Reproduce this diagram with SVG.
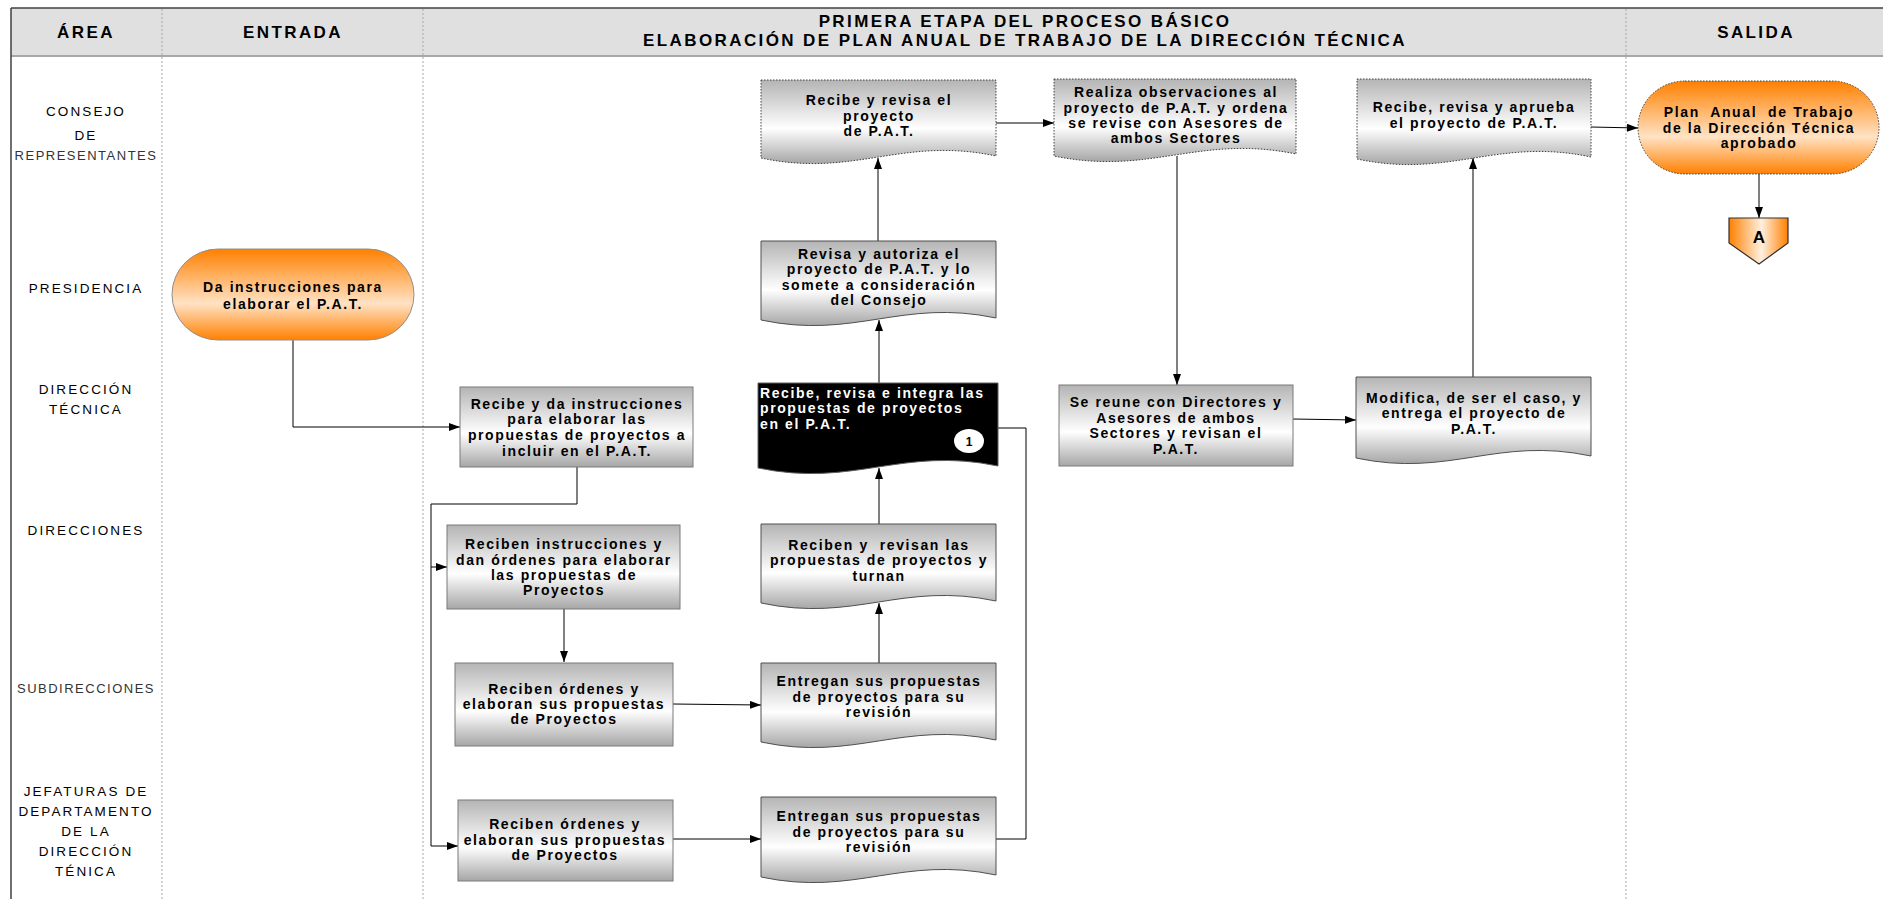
<svg xmlns="http://www.w3.org/2000/svg" width="1883" height="899" viewBox="0 0 1883 899">
<style>
.hd{font-family:"Liberation Sans",Arial,sans-serif;font-weight:bold;font-size:17px;letter-spacing:2.4px;text-anchor:middle;fill:#000}
.lab{font-family:"Liberation Sans",Arial,sans-serif;font-size:13.5px;letter-spacing:2.1px;text-anchor:middle;fill:#000}
.lab2{font-family:"Liberation Sans",Arial,sans-serif;font-size:13px;letter-spacing:1.5px;text-anchor:middle;fill:#333}
.t{font-family:"Liberation Sans",Arial,sans-serif;font-weight:bold;font-size:14px;letter-spacing:1.6px;text-anchor:middle;fill:#000}
.tw{font-family:"Liberation Sans",Arial,sans-serif;font-weight:bold;font-size:14px;letter-spacing:1.6px;fill:#fff}
.box{fill:url(#gGrey);stroke:#7a7a7a;stroke-width:1}
.doc{fill:url(#gGrey);stroke:#505050;stroke-width:1}
.docd{fill:url(#gGrey);stroke:#404040;stroke-width:1;stroke-dasharray:1.5 1.5}
.ln{fill:none;stroke:#000;stroke-width:1}
.arr{fill:none;stroke:#000;stroke-width:1;marker-end:url(#ah)}
.div{stroke:#a8a8a8;stroke-width:1;stroke-dasharray:2 2}
</style>
<defs>
<linearGradient id="gGrey" x1="0" y1="0" x2="0" y2="1">
<stop offset="0" stop-color="#b4b4b4"/>
<stop offset="0.58" stop-color="#ffffff"/>
<stop offset="1" stop-color="#a6a6a6"/>
</linearGradient>
<linearGradient id="gOr" x1="0" y1="0" x2="0" y2="1">
<stop offset="0" stop-color="#ff8000"/>
<stop offset="0.6" stop-color="#ffe2c4"/>
<stop offset="1" stop-color="#ff8000"/>
</linearGradient>
<linearGradient id="gOrH" x1="0" y1="0" x2="1" y2="0">
<stop offset="0" stop-color="#ff8000"/>
<stop offset="0.55" stop-color="#fff0e0"/>
<stop offset="1" stop-color="#ff8000"/>
</linearGradient>
<marker id="ah" viewBox="0 0 11 8" refX="11" refY="4" markerWidth="11" markerHeight="8" markerUnits="userSpaceOnUse" orient="auto">
<path d="M0,0 L11,4 L0,8 z" fill="#000"/>
</marker>
</defs>
<rect x="0" y="0" width="1883" height="899" fill="#fff"/>
<g id="frame">
<rect x="11" y="8" width="1872" height="48" fill="#e0e0e0"/>
<line x1="11" y1="56" x2="1883" y2="56" stroke="#a8a8a8" stroke-width="2"/>
<line x1="11" y1="8" x2="1883" y2="8" stroke="#404040" stroke-width="1.5"/>
<line x1="11" y1="8" x2="11" y2="899" stroke="#404040" stroke-width="1.5"/>
<line class="div" x1="162" y1="9" x2="162" y2="899"/>
<line class="div" x1="423" y1="9" x2="423" y2="899"/>
<line class="div" x1="1626" y1="9" x2="1626" y2="899"/>
<text class="hd" x="86" y="38">ÁREA</text>
<text class="hd" x="293" y="38">ENTRADA</text>
<text class="hd" x="1025" y="27">PRIMERA ETAPA DEL PROCESO BÁSICO</text>
<text class="hd" x="1025" y="46">ELABORACIÓN DE PLAN ANUAL DE TRABAJO DE LA DIRECCIÓN TÉCNICA</text>
<text class="hd" x="1756" y="38">SALIDA</text>
</g>
<g id="lanes">
<text class="lab" x="86" y="116">CONSEJO</text>
<text class="lab" x="86" y="140">DE</text>
<text class="lab2" x="86" y="160">REPRESENTANTES</text>
<text class="lab" x="86" y="293">PRESIDENCIA</text>
<text class="lab" x="86" y="394">DIRECCIÓN</text>
<text class="lab" x="86" y="414">TÉCNICA</text>
<text class="lab" x="86" y="535">DIRECCIONES</text>
<text class="lab2" x="86" y="693">SUBDIRECCIONES</text>
<text class="lab" x="86" y="796">JEFATURAS DE</text>
<text class="lab" x="86" y="816">DEPARTAMENTO</text>
<text class="lab" x="86" y="836">DE LA</text>
<text class="lab" x="86" y="856">DIRECCIÓN</text>
<text class="lab" x="86" y="876">TÉNICA</text>
</g>
<g id="connectors">
<polyline class="arr" points="293,340 293,427 460,427"/>
<polyline class="arr" points="577,467 577,504 431,504 431,846 458,846"/>
<polyline class="arr" points="431,567 447,567"/>
<polyline class="arr" points="564,609 564,662"/>
<polyline class="arr" points="673,704 761,705"/>
<polyline class="arr" points="879,663 879,603"/>
<polyline class="arr" points="879,524 879,468"/>
<polyline class="arr" points="879,383 879,320"/>
<polyline class="arr" points="878,241 878,158"/>
<polyline class="arr" points="996,123 1054,123"/>
<polyline class="arr" points="1177,156 1177,385"/>
<polyline class="arr" points="1293,419 1356,420"/>
<polyline class="arr" points="1473,377 1473,158"/>
<polyline class="arr" points="1591,127 1638,128"/>
<polyline class="arr" points="1759,174 1759,218"/>
<polyline class="arr" points="673,839 761,839"/>
<polyline class="ln" points="998,428 1026,428 1026,839 996,839"/>
</g>
<g id="n1">
<rect x="172" y="249" width="242" height="91" rx="46" ry="45.5" fill="url(#gOr)" stroke="#909090"/>
<text class="t" x="293" y="292">Da instrucciones para</text>
<text class="t" x="293" y="309">elaborar el P.A.T.</text>
</g>
<g id="n2">
<rect class="box" x="460" y="387" width="233" height="80"/>
<text class="t" x="577" y="409">Recibe y da instrucciones</text>
<text class="t" x="577" y="424">para elaborar las</text>
<text class="t" x="577" y="440">propuestas de proyectos a</text>
<text class="t" x="577" y="456">incluir en el P.A.T.</text>
</g>
<g id="n3">
<rect class="box" x="447" y="525" width="233" height="84"/>
<text class="t" x="564" y="549">Reciben instrucciones y</text>
<text class="t" x="564" y="565">dan órdenes para elaborar</text>
<text class="t" x="564" y="580">las propuestas de</text>
<text class="t" x="564" y="595">Proyectos</text>
</g>
<g id="n4">
<rect class="box" x="455" y="663" width="218" height="83"/>
<text class="t" x="564" y="694">Reciben órdenes y</text>
<text class="t" x="564" y="709">elaboran sus propuestas</text>
<text class="t" x="564" y="724">de Proyectos</text>
</g>
<g id="n5">
<path class="doc" d="M761,663 H996 V740 C902,720 855,762 761,742 Z"/>
<text class="t" x="879" y="686">Entregan sus propuestas</text>
<text class="t" x="879" y="702">de proyectos para su</text>
<text class="t" x="879" y="717">revisión</text>
</g>
<g id="n6">
<path class="doc" d="M761,524 H996 V601 C902,581 855,623 761,603 Z"/>
<text class="t" x="879" y="550" xml:space="preserve">Reciben y  revisan las</text>
<text class="t" x="879" y="565">propuestas de proyectos y</text>
<text class="t" x="879" y="581">turnan</text>
</g>
<g id="n7">
<path d="M758,383 H998 V466 C902,446 854,488 758,468 Z" fill="#000" stroke="#606060"/>
<text class="tw" x="760" y="398">Recibe, revisa e integra las</text>
<text class="tw" x="760" y="413">propuestas de proyectos</text>
<text class="tw" x="760" y="429">en el P.A.T.</text>
<ellipse cx="969" cy="441" rx="15" ry="12" fill="#fff"/>
<text x="969" y="445.5" text-anchor="middle" font-family="Liberation Sans, Arial, sans-serif" font-weight="bold" font-size="12" fill="#000">1</text>
</g>
<g id="n8">
<rect class="box" x="458" y="800" width="215" height="81"/>
<text class="t" x="565" y="829">Reciben órdenes y</text>
<text class="t" x="565" y="845">elaboran sus propuestas</text>
<text class="t" x="565" y="860">de Proyectos</text>
</g>
<g id="n9">
<path class="doc" d="M761,797 H996 V875 C902,855 855,897 761,877 Z"/>
<text class="t" x="879" y="821">Entregan sus propuestas</text>
<text class="t" x="879" y="837">de proyectos para su</text>
<text class="t" x="879" y="852">revisión</text>
</g>
<g id="n10">
<path class="doc" d="M761,241 H996 V318 C902,298 855,340 761,320 Z"/>
<text class="t" x="879" y="259">Revisa y autoriza el</text>
<text class="t" x="879" y="274">proyecto de P.A.T. y lo</text>
<text class="t" x="879" y="290">somete a consideración</text>
<text class="t" x="879" y="305">del Consejo</text>
</g>
<g id="n11">
<path class="docd" d="M761,80 H996 V156 C902,136 855,178 761,158 Z"/>
<text class="t" x="879" y="105">Recibe y revisa el</text>
<text class="t" x="879" y="121">proyecto</text>
<text class="t" x="879" y="136">de P.A.T.</text>
</g>
<g id="n12">
<path class="docd" d="M1054,79 H1296 V154 C1199,134 1151,176 1054,156 Z"/>
<text class="t" x="1176" y="97">Realiza observaciones al</text>
<text class="t" x="1176" y="113">proyecto de P.A.T. y ordena</text>
<text class="t" x="1176" y="128">se revise con Asesores de</text>
<text class="t" x="1176" y="143">ambos Sectores</text>
</g>
<g id="n13">
<rect class="box" x="1059" y="385" width="234" height="81"/>
<text class="t" x="1176" y="407">Se reune con Directores y</text>
<text class="t" x="1176" y="423">Asesores de ambos</text>
<text class="t" x="1176" y="438">Sectores y revisan el</text>
<text class="t" x="1176" y="454">P.A.T.</text>
</g>
<g id="n14">
<path class="doc" d="M1356,377 H1591 V456 C1497,436 1450,478 1356,458 Z"/>
<text class="t" x="1474" y="403">Modifica, de ser el caso, y</text>
<text class="t" x="1474" y="418">entrega el proyecto de</text>
<text class="t" x="1474" y="434">P.A.T.</text>
</g>
<g id="n15">
<path class="docd" d="M1357,79 H1591 V157 C1497,137 1451,179 1357,159 Z"/>
<text class="t" x="1474" y="112">Recibe, revisa y aprueba</text>
<text class="t" x="1474" y="128">el proyecto de P.A.T.</text>
</g>
<g id="n16">
<rect x="1638" y="81" width="241" height="93" rx="47" ry="46.5" fill="url(#gOr)" stroke="#404040" stroke-dasharray="1.5 1.5"/>
<text class="t" x="1759" y="117" xml:space="preserve">Plan  Anual  de Trabajo</text>
<text class="t" x="1759" y="133">de la Dirección Técnica</text>
<text class="t" x="1759" y="148">aprobado</text>
</g>
<g id="n17">
<polygon points="1729,218 1788,218 1788,243 1759,264 1729,243" fill="url(#gOrH)" stroke="#303030" stroke-width="1.2"/>
<text x="1759" y="243" text-anchor="middle" font-family="Liberation Sans, Arial, sans-serif" font-weight="bold" font-size="17" fill="#000">A</text>
</g>
</svg>
